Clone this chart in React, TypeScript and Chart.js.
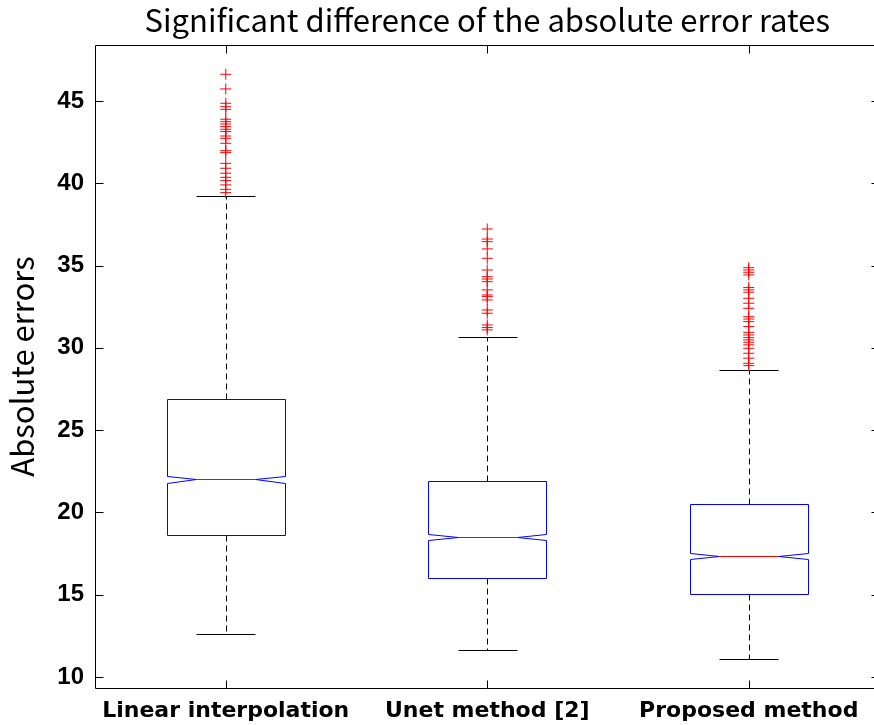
import React, { useEffect, useRef } from "react";
import { Chart, registerables } from "chart.js";

Chart.register(...registerables);

// ---- data ----
const categories = ["Linear interpolation", "Unet method [2]", "Proposed method"];
const lowerWhisker = [12.61, 11.64, 11.1];
const q1 = [18.63, 16.0, 15.04];
const medians = [22.0, 18.51, 17.35];
const q3 = [26.89, 21.91, 20.51];
const upperWhisker = [39.25, 30.66, 28.65];
const notchHalf = [0.23, 0.18, 0.16];
const outliersLinear = [
  46.62, 45.73, 44.86, 44.65, 44.49, 43.89, 43.74, 43.6, 43.44, 43.28, 43.14, 42.87, 42.73,
  42.43, 41.98, 41.86, 41.21, 40.91, 40.61, 40.36, 40.16, 39.9, 39.63, 39.43,
];
const outliersUnet = [
  37.22, 36.61, 36.45, 36.01, 35.44, 34.73, 34.32, 34.18, 34.02, 33.52, 33.21, 33.11, 32.91,
  32.3, 32.1, 31.39, 31.23, 31.09,
];
const outliersProposed = [
  34.87, 34.73, 34.59, 34.43, 33.66, 33.52, 33.38, 33.01, 32.71, 32.4, 31.89, 31.75, 31.59,
  31.29, 30.94, 30.78, 30.62, 30.48, 30.34, 30.18, 29.97, 29.67, 29.37, 29.06, 28.92,
];
const yTicks = [10, 15, 20, 25, 30, 35, 40, 45];
const xTicks = [1, 2, 3];
const X_MIN = 0.5;
const X_MAX = 3.5;
const Y_MIN = 9.33;
const Y_MAX = 48.4;

const TITLE = "Significant difference of the absolute error rates";
const Y_TITLE = "Absolute errors";
const TITLE_FONT = "'Noto Sans CJK JP', 'Noto Sans', sans-serif";
const XTICK_FONT = "'DejaVu Sans', sans-serif";
const YTICK_FONT = "'Liberation Sans', Arial, sans-serif";

const BOX_WIDTH = 0.45;

const boxPlugin = {
  id: "boxplotDraw",
  beforeDatasetsDraw(chart: any) {
    const { ctx } = chart;
    const xs = chart.scales.x;
    const ys = chart.scales.y;
    const px = (v: number) => Math.round(xs.getPixelForValue(v)) + 0.5;
    const py = (v: number) => Math.round(ys.getPixelForValue(v)) + 0.5;
    ctx.save();
    ctx.lineWidth = 1;
    for (let i = 0; i < categories.length; i++) {
      const c = i + 1;
      const xl = px(c - BOX_WIDTH / 2);
      const xr = px(c + BOX_WIDTH / 2);
      const xil = px(c - BOX_WIDTH / 4);
      const xir = px(c + BOX_WIDTH / 4);
      const xc = px(c);
      // whiskers (dashed)
      ctx.strokeStyle = "#000";
      ctx.setLineDash([6, 4]);
      ctx.beginPath();
      ctx.moveTo(xc, py(q3[i]));
      ctx.lineTo(xc, py(upperWhisker[i]));
      ctx.moveTo(xc, py(q1[i]));
      ctx.lineTo(xc, py(lowerWhisker[i]));
      ctx.stroke();
      ctx.setLineDash([]);
      // caps
      ctx.beginPath();
      ctx.moveTo(xil, py(upperWhisker[i]));
      ctx.lineTo(xir, py(upperWhisker[i]));
      ctx.moveTo(xil, py(lowerWhisker[i]));
      ctx.lineTo(xir, py(lowerWhisker[i]));
      ctx.stroke();
      // notched box
      ctx.strokeStyle = "#0000ff";
      ctx.beginPath();
      ctx.moveTo(xl, py(q3[i]));
      ctx.lineTo(xr, py(q3[i]));
      ctx.lineTo(xr, py(medians[i] + notchHalf[i]));
      ctx.lineTo(xir, py(medians[i]));
      ctx.lineTo(xr, py(medians[i] - notchHalf[i]));
      ctx.lineTo(xr, py(q1[i]));
      ctx.lineTo(xl, py(q1[i]));
      ctx.lineTo(xl, py(medians[i] - notchHalf[i]));
      ctx.lineTo(xil, py(medians[i]));
      ctx.lineTo(xl, py(medians[i] + notchHalf[i]));
      ctx.closePath();
      ctx.stroke();
      // median
      ctx.strokeStyle = "#ff0000";
      ctx.beginPath();
      ctx.moveTo(xil, py(medians[i]));
      ctx.lineTo(xir, py(medians[i]));
      ctx.stroke();
    }
    ctx.restore();
  },
  afterDraw(chart: any) {
    const { ctx } = chart;
    const xs = chart.scales.x;
    const ys = chart.scales.y;
    const l = Math.round(xs.getPixelForValue(X_MIN)) + 0.5;
    const r = Math.round(xs.getPixelForValue(X_MAX)) - 0.5;
    const t = Math.round(ys.getPixelForValue(Y_MAX)) + 0.5;
    const b = Math.round(ys.getPixelForValue(Y_MIN)) + 0.5;
    const tick = 8;
    ctx.save();
    ctx.strokeStyle = "#000";
    ctx.lineWidth = 1;
    ctx.beginPath();
    // top, left, bottom frame lines (right edge lies outside the picture)
    ctx.moveTo(r, t);
    ctx.lineTo(l, t);
    ctx.lineTo(l, b);
    ctx.lineTo(r, b);
    for (const v of yTicks) {
      const y = Math.round(ys.getPixelForValue(v)) + 0.5;
      ctx.moveTo(l, y);
      ctx.lineTo(l + tick, y);
      ctx.moveTo(r, y);
      ctx.lineTo(r - tick, y);
    }
    for (const v of xTicks) {
      const x = Math.round(xs.getPixelForValue(v)) + 0.5;
      ctx.moveTo(x, b);
      ctx.lineTo(x, b - tick);
      ctx.moveTo(x, t);
      ctx.lineTo(x, t + tick);
    }
    ctx.stroke();
    ctx.restore();
  },
};

export default function App() {
  const ref = useRef<HTMLCanvasElement | null>(null);
  useEffect(() => {
    document.body.style.margin = "0";
    const canvas = ref.current!;
    const outlierSets = [outliersLinear, outliersUnet, outliersProposed];
    const chart = new Chart(canvas, {
      type: "scatter",
      data: {
        datasets: outlierSets.map((set, i) => ({
          label: categories[i],
          data: set.map((v) => ({ x: i + 1, y: v })),
          pointStyle: "cross",
          radius: 5.5,
          borderColor: "#ff0000",
          backgroundColor: "#ff0000",
          borderWidth: 1,
        })),
      },
      options: {
        responsive: false,
        animation: false,
        devicePixelRatio: 1,
        layout: { padding: { left: 0, right: 6, top: 0, bottom: 0 } },
        plugins: {
          legend: { display: false },
          tooltip: { enabled: false },
          title: {
            display: true,
            text: TITLE,
            fullSize: false,
            color: "#000",
            font: { family: TITLE_FONT, size: 31, weight: "normal", lineHeight: 1.2 },
            padding: { top: 2, bottom: 5.8 },
          },
        },
        scales: {
          x: {
            type: "linear",
            min: X_MIN,
            max: X_MAX,
            grid: { display: false, drawTicks: false },
            border: { display: false },
            afterBuildTicks: (s: any) => {
              s.ticks = xTicks.map((v) => ({ value: v }));
            },
            afterFit: (s: any) => {
              s.height = 37;
              s.paddingLeft = 0;
              s.paddingRight = 0;
            },
            ticks: {
              padding: 10,
              maxRotation: 0,
              autoSkip: false,
              color: "#000",
              font: { family: XTICK_FONT, size: 22, weight: "bold" },
              callback: (v: any) => categories[Math.round(Number(v)) - 1] ?? "",
            },
          },
          y: {
            type: "linear",
            min: Y_MIN,
            max: Y_MAX,
            grid: { display: false, drawTicks: false },
            border: { display: false },
            afterBuildTicks: (s: any) => {
              s.ticks = yTicks.map((v) => ({ value: v }));
            },
            afterFit: (s: any) => {
              s.width = 95;
              s.paddingTop = 0;
              s.paddingBottom = 0;
            },
            title: {
              display: true,
              text: Y_TITLE,
              color: "#000",
              font: { family: TITLE_FONT, size: 31, weight: "normal", lineHeight: 1.2 },
              padding: { top: 3.5, bottom: 0 },
            },
            ticks: {
              padding: 11,
              color: "#000",
              font: { family: YTICK_FONT, size: 24, weight: "bold" },
            },
          },
        },
      },
      plugins: [boxPlugin],
    });
    return () => chart.destroy();
  }, []);
  return (
    <div
      style={{
        position: "fixed",
        left: 0,
        top: 0,
        width: 874,
        height: 725,
        overflow: "hidden",
        background: "#fff",
      }}
    >
      <canvas ref={ref} width={886} height={725} style={{ display: "block" }} />
    </div>
  );
}
